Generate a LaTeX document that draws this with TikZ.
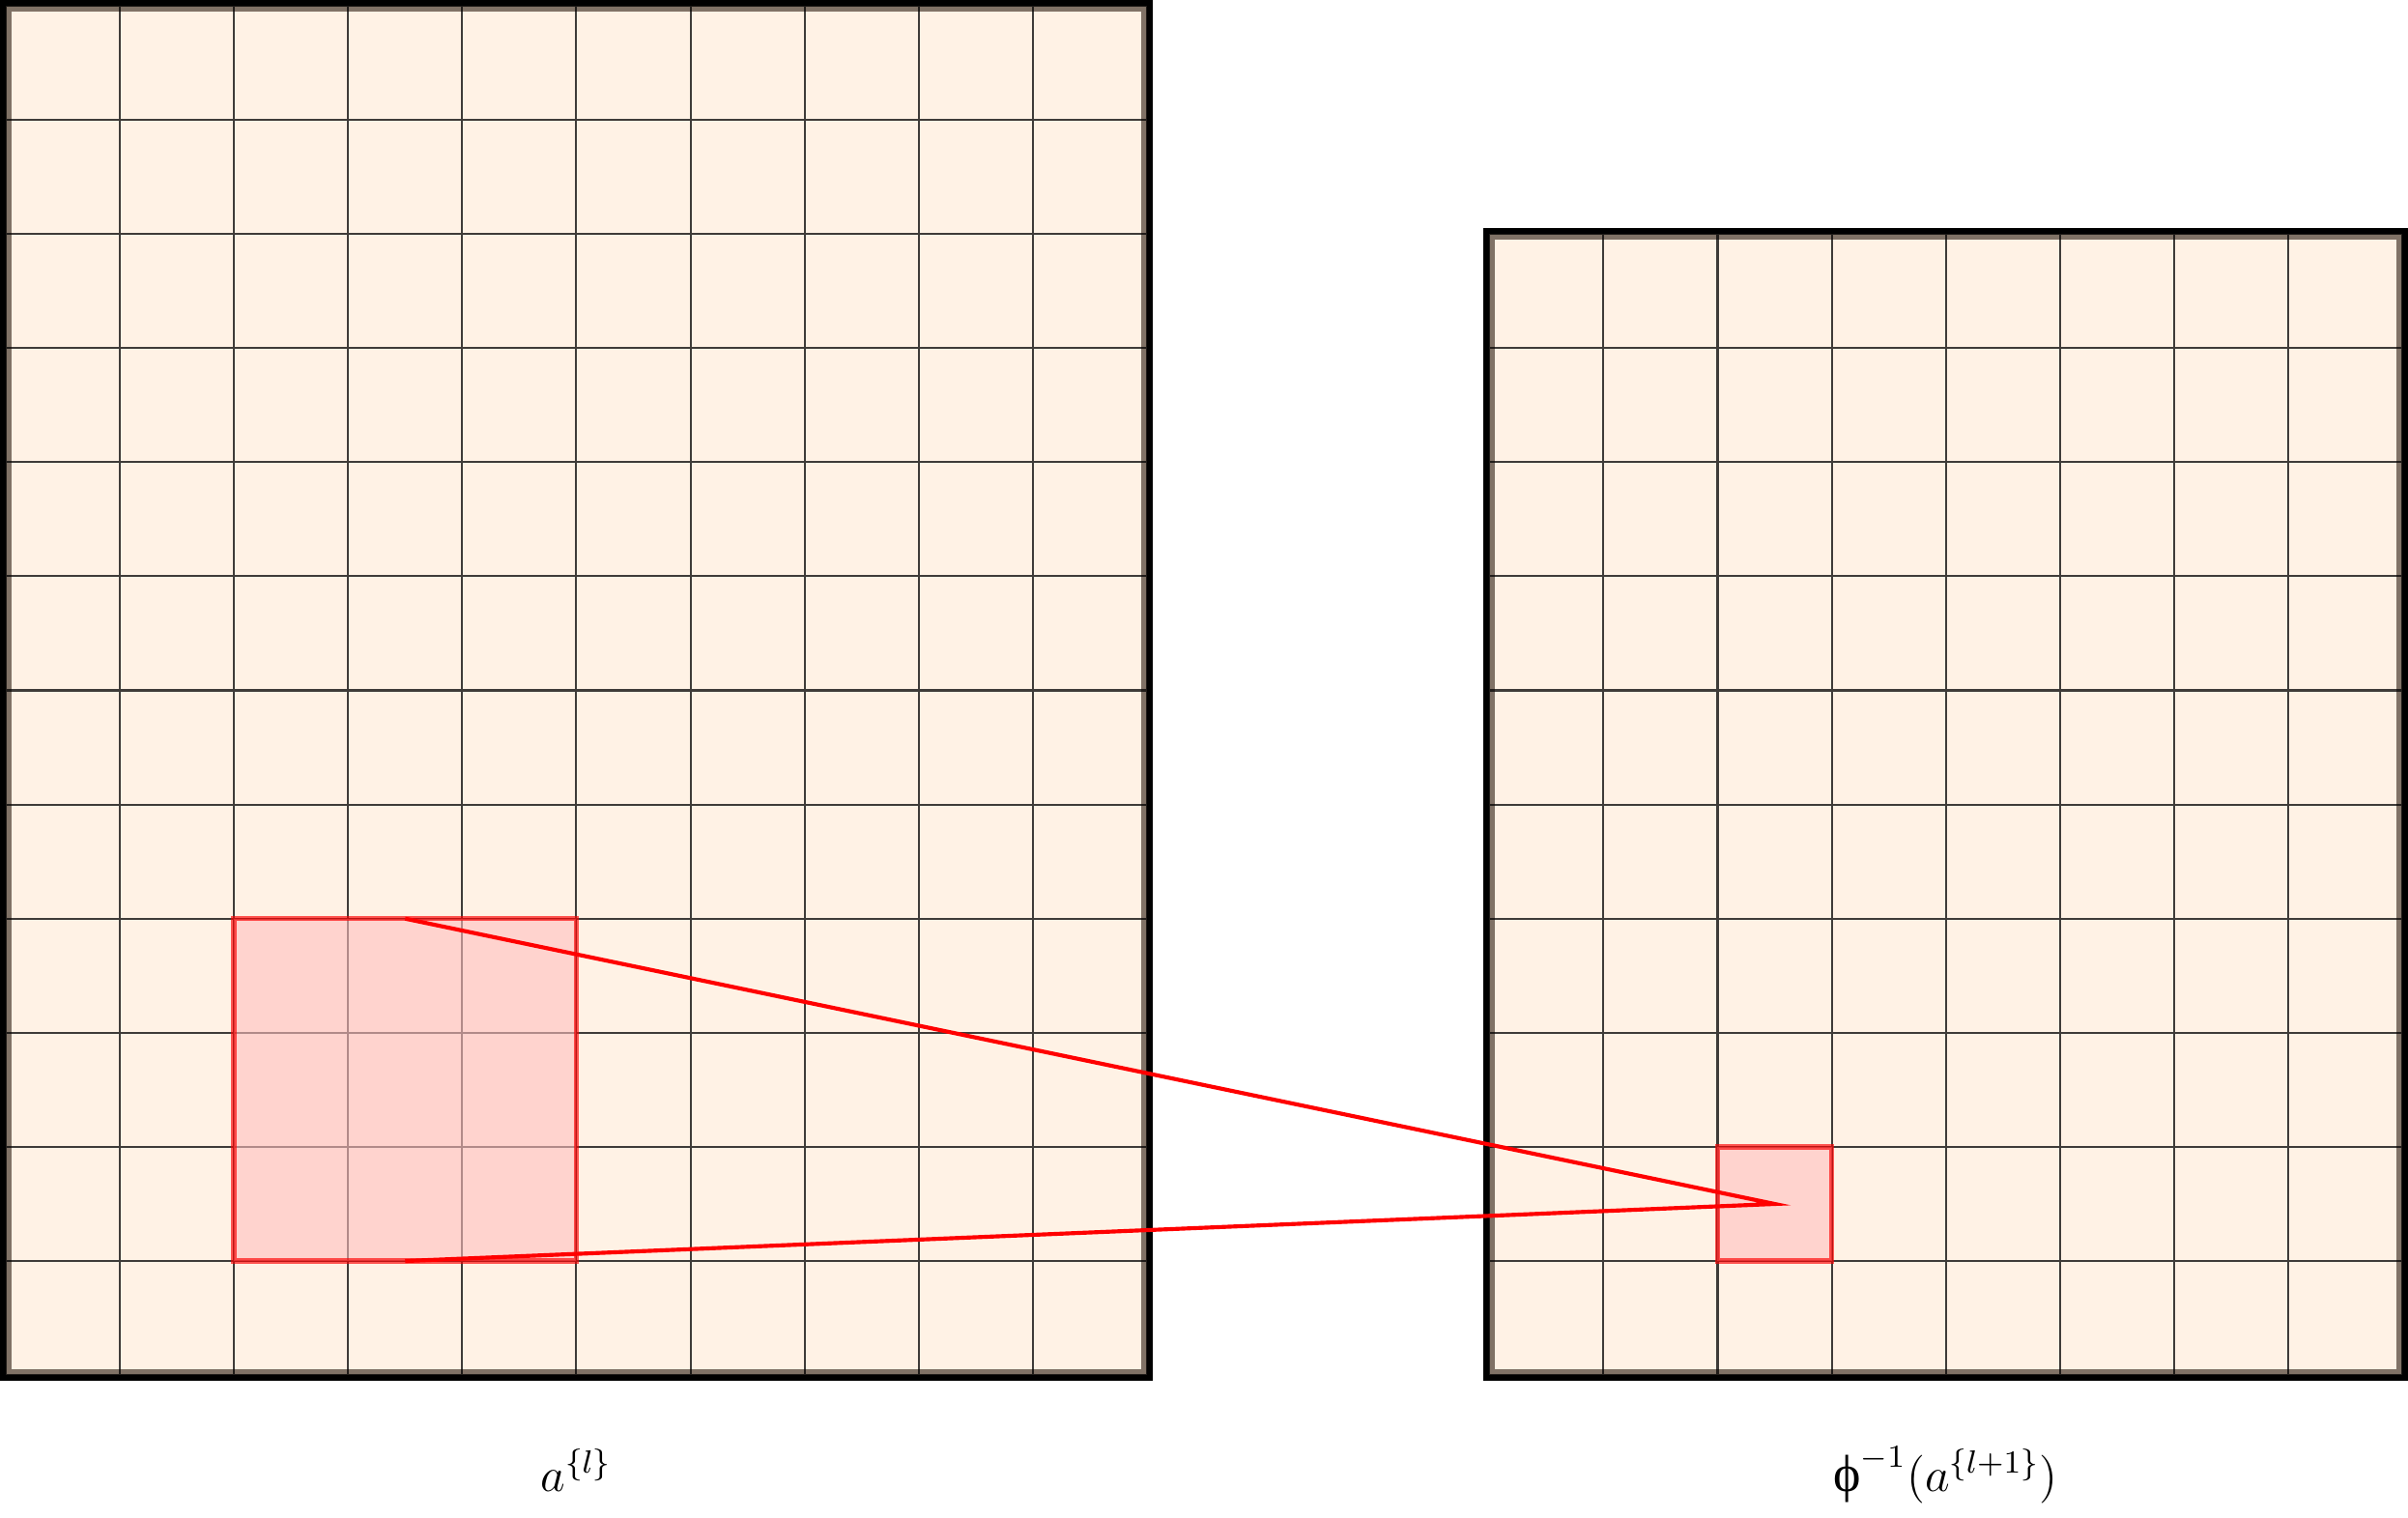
\documentclass[tikz,border=0pt]{standalone}
\usepackage{fontspec}
\newfontfamily\grk{Liberation Serif}
\begin{document}
\begin{tikzpicture}[
  mapframe/.style={draw=black, line width=0.1cm},
  mappaper/.style={fill=orange!20, fill opacity=0.5},
  mapcells/.style={draw=black, draw opacity=0.75, line width=0.5pt},
  rfpatch/.style={draw=red, draw opacity=0.65, line width=1.3pt, fill=red!25, fill opacity=0.6},
  rfray/.style={draw=red, line width=1pt, line join=miter},
  maplab/.style={font=\large, anchor=base, inner sep=0pt}
]
\useasboundingbox (-0.05,-1.2434) rectangle (21.05,12.05);
% left map
\draw[mapframe] (0,0) rectangle (10,12);
\fill[mappaper] (0,0) rectangle (10,12);
\draw[mapcells] (0,0) grid (10,12);
% right map
\draw[mapframe] (13,0) rectangle (21,10);
\fill[mappaper] (13,0) rectangle (21,10);
\draw[mapcells] (13,0) grid (21,10);
% receptive field patches
\draw[rfpatch] (2,1) rectangle (5,4);
\draw[rfpatch] (15,1) rectangle (16,2);
\coordinate (ptop) at (3.5,4);
\coordinate (pbot) at (3.5,1);
\coordinate (apex) at (15.5,1.5);
\draw[rfray] (ptop) -- (apex) -- (pbot);
% labels
\node[maplab] (la) at (5,-1.015) {$a^{\{l\}}$};
\node[maplab] (lb) at (17,-1.015) {$\mbox{\grk\fontsize{13}{15}\selectfont ϕ}^{-1}(a^{\{l+1\}})$};
\end{tikzpicture}
\end{document}
